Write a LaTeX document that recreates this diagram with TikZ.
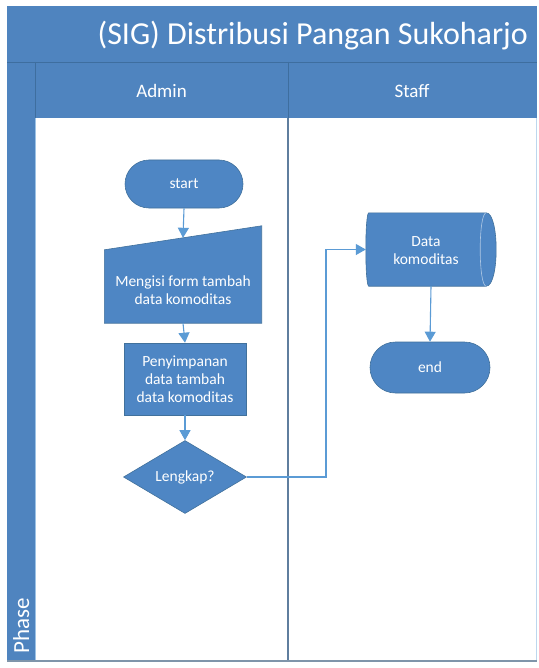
\documentclass[tikz,border=0pt]{standalone}
\usepackage{fontspec}
\setmainfont{Carlito}
\usetikzlibrary{shapes.geometric,shapes.misc,arrows.meta,calc}
\definecolor{band}{HTML}{4F84BF}
\definecolor{bandline}{HTML}{3E6E9F}
\definecolor{shapefill}{HTML}{4E86C4}
\definecolor{shapeline}{HTML}{41719C}
\definecolor{conn}{HTML}{5B9BD5}
\definecolor{frame}{HTML}{7F95AA}
\definecolor{divider}{HTML}{5F7E9E}
\tikzset{
  shp/.style={fill=shapefill, draw=shapeline, line width=0.6pt, text=white, font=\fontsize{15.5}{18}\selectfont, align=center, inner sep=0pt},
  term/.style={shp, rounded rectangle, minimum width=118pt, minimum height=48pt},
  procbox/.style={shp, rectangle, minimum width=122pt, minimum height=72pt},
  decis/.style={shp, diamond, minimum width=123pt, minimum height=73pt},
  holder/.style={rectangle, draw=none, inner sep=0pt},
  txt/.style={text=white, font=\fontsize{15.5}{18}\selectfont, align=center, inner sep=0pt},
  connector/.style={draw=conn, line width=1.1pt, -{Triangle[width=11pt,length=10pt]}},
  hdr/.style={text=white, font=\fontsize{19}{22}\selectfont, inner sep=0pt}
}
\begin{document}
\begin{tikzpicture}[x=1pt,y=-1pt]
\useasboundingbox (0,0) rectangle (538,668);
\fill[white] (0,0) rectangle (538,668);
% pool frame
\fill[band] (7,6) rectangle (537,118);
\fill[band] (7,118) rectangle (35,661);
\draw[bandline, line width=0.6pt] (7,62) -- (537,62);
\draw[bandline, line width=0.6pt] (35,62) -- (35,118);
\draw[bandline, line width=0.6pt] (288,62) -- (288,118);
\draw[conn!60, line width=0.8pt] (35,118) -- (35,661);
\draw[conn!40, line width=0.8pt] (536,118) -- (536,661);
\draw[divider, line width=1.6pt] (288,118) -- (288,661);
\draw[frame, line width=1.5pt] (7,661) -- (537,661);
\node[text=white, font=\fontsize{32}{36}\selectfont, anchor=east, inner sep=0pt] (title) at (528,36) {(SIG) Distribusi Pangan Sukoharjo};
\node[hdr] (admin) at (161.5,91) {Admin};
\node[hdr] (staff) at (412,91) {Staff};
\node[text=white, font=\fontsize{23}{26}\selectfont, inner sep=0pt, rotate=90, anchor=base west] (phase) at (29,654) {Phase};
% shapes
\node[term] (start) at (184,184) {start};
\node[holder, minimum width=157pt, minimum height=85pt] (mi) at (183,280.5) {};
\filldraw[fill=shapefill, draw=shapeline, line width=0.6pt] (mi.south west) -- (mi.south east) -- ($(mi.north east)+(0,-12)$) -- ($(mi.north west)+(0,12)$) -- cycle;
\node[txt] (mitext) at (183,290) {Mengisi form tambah\\data komoditas};
\node[procbox] (pen) at (185,379) {Penyimpanan\\data tambah\\data komoditas};
\node[decis] (dia) at (185,477) {Lengkap?};
\node[holder, minimum width=130pt, minimum height=73pt] (dat) at (431,249.5) {};
\filldraw[fill=shapefill, draw=shapeline, line width=0.6pt]
  ($(dat.north west)+(3,0)$) -- ($(dat.north east)+(-10,0)$)
  .. controls ($(dat.north east)+(3.3,0)$) and ($(dat.south east)+(3.3,0)$) .. ($(dat.south east)+(-10,0)$)
  -- ($(dat.south west)+(3,0)$)
  .. controls ($(dat.south west)+(-1,0)$) and ($(dat.north west)+(-1,0)$) .. ($(dat.north west)+(3,0)$) -- cycle;
\draw[white!55!shapefill, line width=0.6pt] ($(dat.north east)+(-10,0)$) .. controls ($(dat.north east)+(-18,0)$) and ($(dat.south east)+(-18,0)$) .. ($(dat.south east)+(-10,0)$);
\node[txt] (dattext) at (426,251) {Data\\komoditas};
\node[term, minimum width=120pt, minimum height=51pt] (endn) at (430,367.5) {end};
% connectors
\draw[connector] (start.south) -- (mi.north);
\draw[connector] (mi.south) -- (pen.north);
\draw[connector] (pen.south) -- (dia.north);
\coordinate (bend) at (326,477);
\draw[connector] (dia.east) -- (bend) |- (dat.west);
\draw[connector] (dat.south) -- (endn.north);
\end{tikzpicture}
\end{document}
